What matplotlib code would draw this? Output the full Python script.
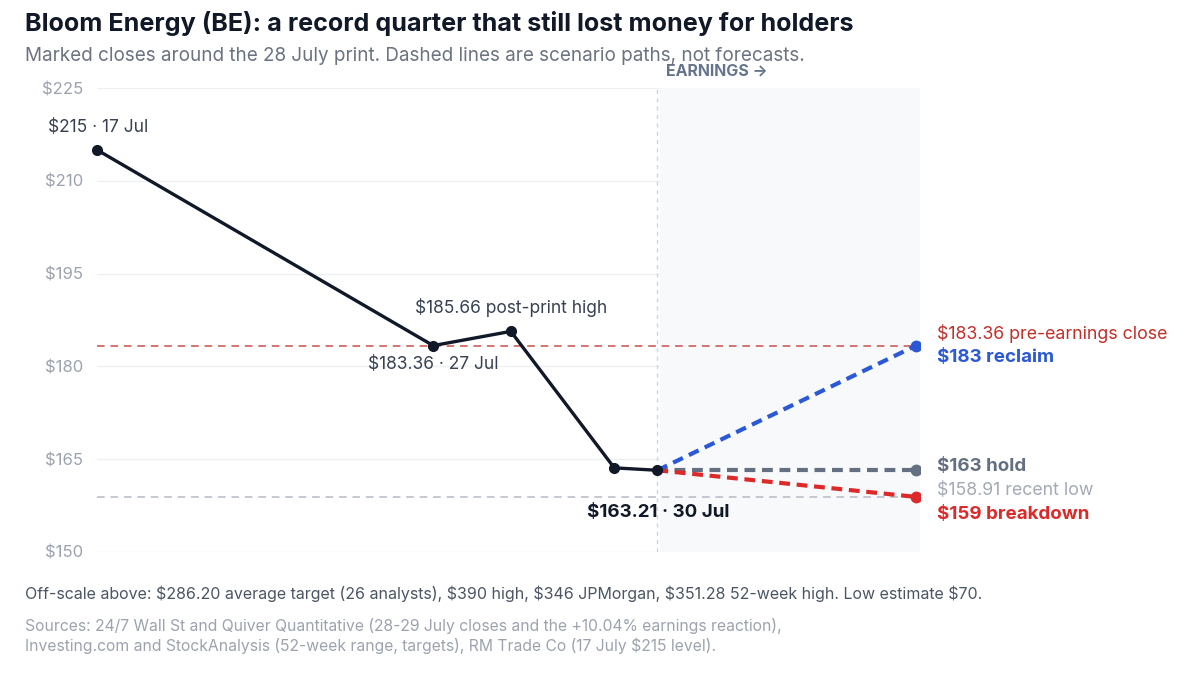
import matplotlib
matplotlib.use("Agg")
import matplotlib.pyplot as plt

plt.rcParams['font.family'] = ['Inter', 'DejaVu Sans']

# ---- data ----
dates = ["17 Jul", "27 Jul", "28 Jul", "29 Jul", "30 Jul"]
day_pos = [0.0, 7.8, 9.6, 12.0, 13.0]          # position along the time axis
closes = [215.0, 183.36, 185.66, 163.6, 163.21]

scenario_x = [13.0, 19.0]
reclaim = [163.21, 183.36]
hold = [163.21, 163.21]
breakdown = [163.21, 158.91]

pre_earnings_close = 183.36
recent_low = 158.91
earnings_x = 13.0

y_ticks = [150, 165, 180, 195, 210, 225]
y_tick_labels = ["$150", "$165", "$180", "$195", "$210", "$225"]

title = "Bloom Energy (BE): a record quarter that still lost money for holders"
subtitle = "Marked closes around the 28 July print. Dashed lines are scenario paths, not forecasts."
footnote = ("Off-scale above: $286.20 average target (26 analysts), $390 high, $346 JPMorgan, "
            "$351.28 52-week high. Low estimate $70.")
sources1 = "Sources: 24/7 Wall St and Quiver Quantitative (28-29 July closes and the +10.04% earnings reaction),"
sources2 = "Investing.com and StockAnalysis (52-week range, targets), RM Trade Co (17 July $215 level)."

# ---- figure ----
W, H = 1200, 675
fig = plt.figure(figsize=(12, 6.75), dpi=100)
fig.patch.set_facecolor("white")
ax_left, ax_right, ax_top, ax_bottom = 97, 920, 88, 552
ax = fig.add_axes([ax_left / W, 1 - ax_bottom / H, (ax_right - ax_left) / W, (ax_bottom - ax_top) / H])
xmax = 19.0 * (ax_right - ax_left) / (916 - ax_left)
ax.set_xlim(0, xmax)
ax.set_ylim(150, 225)

for s in ax.spines.values():
    s.set_visible(False)
ax.set_xticks([])
ax.set_yticks(y_ticks)
ax.set_yticklabels(y_tick_labels)
ax.tick_params(axis='y', length=0, pad=10, labelsize=12, labelcolor="#9ca3af")
for t in y_ticks:
    ax.axhline(t, color="#eef0f3", lw=1.0, zorder=0)

# earnings shading + line
ax.axvspan(earnings_x + 0.06, xmax, color="#f7f9fb", zorder=0.5, lw=0)
ax.axvline(earnings_x, color="#cfd6e0", lw=1.0, dashes=(3, 3), zorder=1)

# reference lines
ax.axhline(pre_earnings_close, xmin=0, xmax=19.05 / xmax, color="#c8504a", lw=1.1,
           dashes=(5, 3.8), zorder=1.5)
ax.axhline(recent_low, xmin=0, xmax=19.0 / xmax, color="#b4bac6", lw=1.1,
           dashes=(5, 3.8), zorder=1.5)

# scenarios
ax.plot(scenario_x, hold, color="#646f82", lw=3, dashes=(2.6, 1.6), zorder=3)
ax.plot(scenario_x, breakdown, color="#dc2a2a", lw=3, dashes=(2.6, 1.6), zorder=3)
ax.plot(scenario_x, reclaim, color="#2b58d4", lw=3, dashes=(2.6, 1.6), zorder=3)
ax.plot(scenario_x[-1], hold[-1], "o", color="#646f82", ms=7.5, zorder=4)
ax.plot(scenario_x[-1], breakdown[-1], "o", color="#dc2a2a", ms=7.5, zorder=4)
ax.plot(scenario_x[-1], reclaim[-1], "o", color="#2b58d4", ms=7.5, zorder=4)

# main line
ax.plot(day_pos, closes, color="#111827", lw=2.4, marker="o", ms=7, zorder=5, clip_on=False)

# point labels
def lab(x, y, txt, dx, dy, ha="center", color="#374151", weight="normal", size=12.5):
    ax.annotate(txt, (x, y), xytext=(dx, dy), textcoords="offset pixels",
                ha=ha, va="center", color=color, fontweight=weight, fontsize=size,
                zorder=6, annotation_clip=False)

lab(day_pos[0], closes[0], f"${closes[0]:.0f} · {dates[0]}", 1, 22)
lab(day_pos[1], closes[1], f"${closes[1]:.2f} · {dates[1]}", 0, -19)
lab(day_pos[2], closes[2], f"${closes[2]:.2f} post-print high", 0, 24)
lab(day_pos[4], closes[4], f"${closes[4]:.2f} · {dates[4]}", 1, -42, color="#111827",
    weight="bold", size=13.5)

# right-side labels
xe = scenario_x[-1]
lab(xe, pre_earnings_close, f"${pre_earnings_close:.2f} pre-earnings close", 21, 12, ha="left",
    color="#c0302b", size=12.8)
lab(xe, reclaim[-1], f"${reclaim[-1]:.0f} reclaim", 21, -12, ha="left", color="#2b58d4",
    weight="bold", size=13.5)
lab(xe, hold[-1], f"${hold[-1]:.0f} hold", 21, 4, ha="left", color="#646f82", weight="bold", size=13.5)
lab(xe, recent_low, f"${recent_low:.2f} recent low", 21, 6, ha="left", color="#a3a9b5", size=12.8)
lab(xe, breakdown[-1], f"${breakdown[-1]:.0f} breakdown", 21, -18, ha="left", color="#dc2a2a",
    weight="bold", size=13.5)

# earnings label
ax.annotate("EARNINGS →", (earnings_x, 225), xytext=(9, 17), textcoords="offset pixels",
            ha="left", va="center", color="#64748b", fontweight="bold", fontsize=11.5,
            annotation_clip=False)

# texts
fig.text(25 / W, 1 - 31 / H, title, fontsize=18.1, fontweight="bold", color="#111827", va="baseline")
fig.text(25 / W, 1 - 61 / H, subtitle, fontsize=13.6, color="#6b7280", va="baseline")
fig.text(25 / W, 1 - 594 / H, footnote, fontsize=11.5, color="#4b5563", va="center")
fig.text(25 / W, 1 - 626 / H, sources1, fontsize=11.3, color="#9ca3af", va="center")
fig.text(25 / W, 1 - 646 / H, sources2, fontsize=11.3, color="#9ca3af", va="center")

fig.savefig("out.png", dpi=100, facecolor="white")
